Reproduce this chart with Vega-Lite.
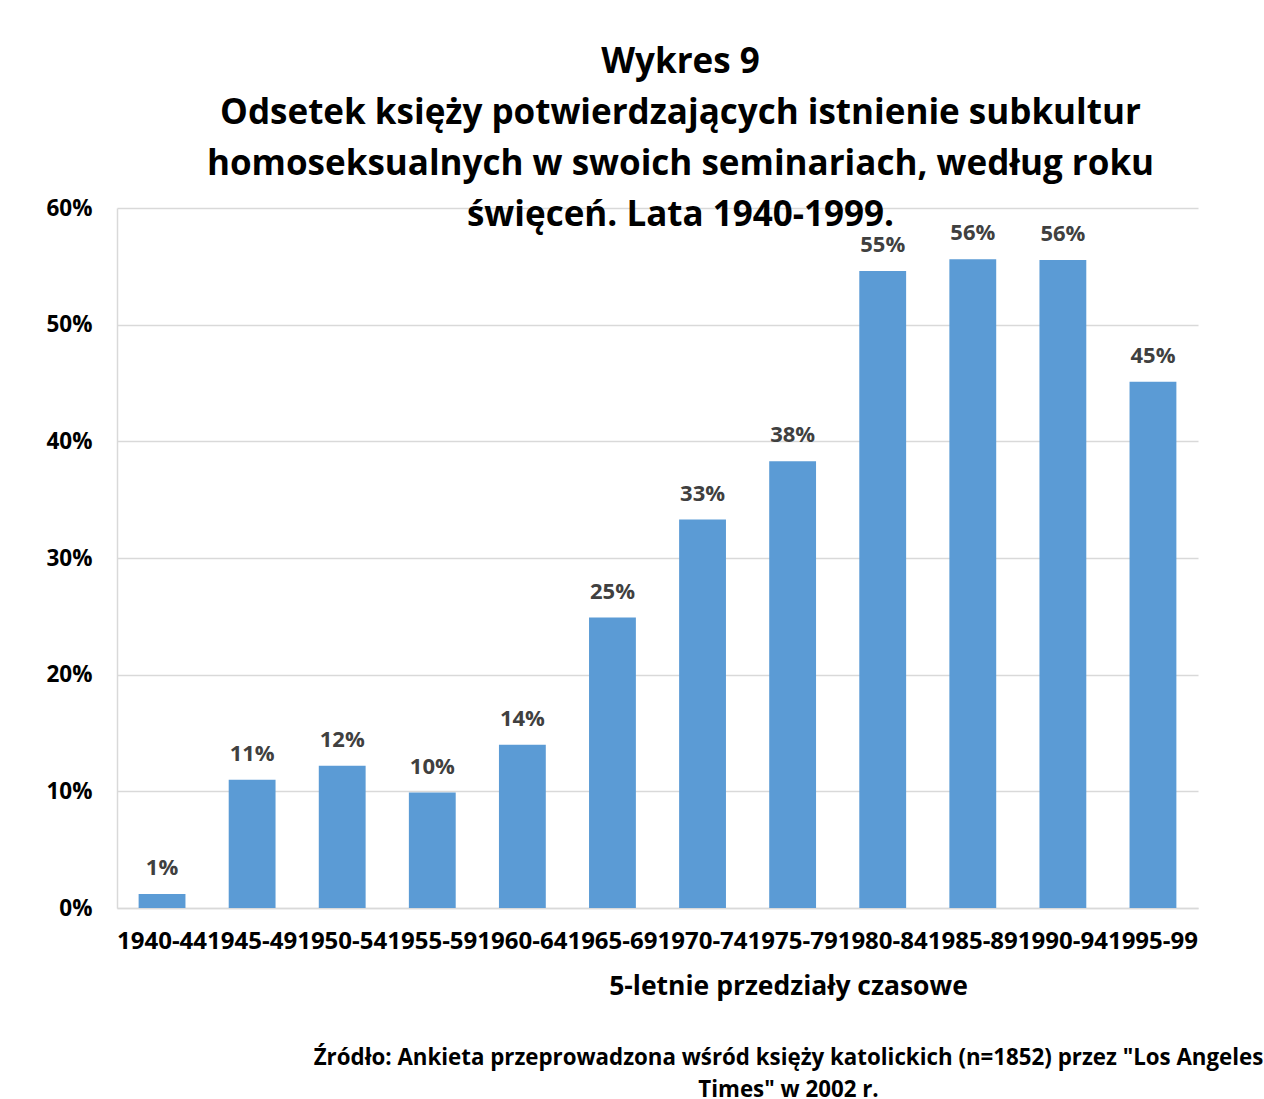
{
  "$schema": "https://vega.github.io/schema/vega-lite/v6.json",
  "width": 1081,
  "height": 700,
  "autosize": {"type": "none"},
  "padding": {"left": 117, "top": 208, "right": 66, "bottom": 191},
  "background": "white",
  "config": {"font": "Open Sans", "view": {"stroke": null}},
  "title": {
    "text": ["Wykres 9", "Odsetek księży potwierdzających istnienie subkultur", "homoseksualnych w swoich seminariach, według roku", "święceń. Lata 1940-1999."],
    "fontSize": 35,
    "fontWeight": "bold",
    "color": "black",
    "lineHeight": 51,
    "anchor": "middle",
    "frame": "group",
    "dx": 23,
    "offset": -36
  },
  "data": {
    "values": [
      {"okres": "1940-44", "odsetek": 0.012},
      {"okres": "1945-49", "odsetek": 0.11},
      {"okres": "1950-54", "odsetek": 0.122},
      {"okres": "1955-59", "odsetek": 0.099},
      {"okres": "1960-64", "odsetek": 0.14},
      {"okres": "1965-69", "odsetek": 0.249},
      {"okres": "1970-74", "odsetek": 0.333},
      {"okres": "1975-79", "odsetek": 0.383},
      {"okres": "1980-84", "odsetek": 0.546},
      {"okres": "1985-89", "odsetek": 0.556},
      {"okres": "1990-94", "odsetek": 0.5555},
      {"okres": "1995-99", "odsetek": 0.451}
    ]
  },
  "resolve": {"axis": {"x": "independent"}},
  "layer": [
    {
      "mark": {"type": "bar", "color": "#5B9BD5"},
      "encoding": {
        "x": {
          "field": "okres", "type": "nominal", "sort": null,
          "scale": {"paddingInner": 0.48, "paddingOuter": 0.24},
          "axis": {
            "labelAngle": 0, "labelFontSize": 24, "labelFontWeight": "bold", "labelColor": "black",
            "labelPadding": 21, "labelOverlap": false, "labelBound": false, "ticks": false,
            "domainColor": "#d9d9d9", "domainWidth": 1.5,
            "title": "5-letnie przedziały czasowe", "titleFontSize": 26.5, "titleFontWeight": "bold", "titleColor": "black",
            "titleX": 671, "titleY": 86, "titleBaseline": "alphabetic", "titleAlign": "center"
          }
        },
        "y": {
          "field": "odsetek", "type": "quantitative",
          "scale": {"domain": [0, 0.6]},
          "axis": {
            "values": [0, 0.1, 0.2, 0.3, 0.4, 0.5, 0.6], "format": ".0%",
            "labelFontSize": 22.5, "labelFontWeight": "bold", "labelColor": "black", "labelPadding": 25,
            "gridColor": "#d9d9d9", "gridWidth": 1.5, "domainColor": "#d9d9d9", "domainWidth": 1.5,
            "ticks": false, "title": null
          }
        }
      }
    },
    {
      "mark": {"type": "text", "baseline": "bottom", "dy": -14, "fontSize": 22, "fontWeight": "bold", "color": "#404040"},
      "encoding": {
        "x": {
          "field": "okres", "type": "nominal", "sort": null,
          "axis": {
            "orient": "bottom", "labels": false, "ticks": false, "domain": false, "grid": false,
            "title": ["Źródło: Ankieta przeprowadzona wśród księży katolickich (n=1852) przez \"Los Angeles", "Times\" w 2002 r."],
            "titleFontSize": 22.3, "titleFontWeight": "bold", "titleColor": "black", "titleLineHeight": 32,
            "titleX": 671, "titleY": 156, "titleBaseline": "alphabetic", "titleAlign": "center"
          }
        },
        "y": {"field": "odsetek", "type": "quantitative"},
        "text": {"field": "odsetek", "type": "quantitative", "format": ".0%"}
      }
    }
  ]
}
